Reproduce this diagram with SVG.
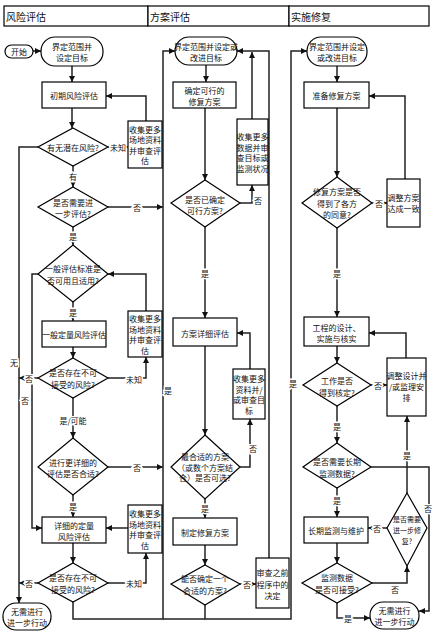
<svg xmlns="http://www.w3.org/2000/svg" width="437" height="636" viewBox="0 0 437 636">
<style>
.b{fill:#fff;stroke:#000;stroke-width:1.2}
.t{font-family:"Noto Sans CJK SC",sans-serif;font-size:8px;text-anchor:middle;dominant-baseline:central;fill:#111}
.s{font-size:7px}
.h{font-family:"Noto Sans CJK SC",sans-serif;font-size:10px;dominant-baseline:central;fill:#111}
.l{font-family:"Noto Sans CJK SC",sans-serif;font-size:8px;text-anchor:middle;dominant-baseline:central;fill:#111;paint-order:stroke;stroke:#fff;stroke-width:3px}
.c{fill:none;stroke:#222;stroke-width:1.5;marker-end:url(#a)}
.n{fill:none;stroke:#222;stroke-width:1.5}
</style>
<defs>
<marker id="a" markerUnits="userSpaceOnUse" markerWidth="7" markerHeight="6" refX="6" refY="3" orient="auto"><path d="M0,0L6,3L0,6z" fill="#111"/></marker>
</defs>
<rect width="437" height="636" fill="#fff"/>
<g id="header">
<rect class="b" x="4" y="6" width="144" height="20"/><text class="h" x="6" y="16">风险评估</text>
<rect class="b" x="148" y="6" width="141" height="20"/><text class="h" x="150" y="16">方案评估</text>
<rect class="b" x="289" y="6" width="140" height="20"/><text class="h" x="291" y="16">实施修复</text>
</g>
<g id="connectors">
<path class="c" d="M33,51H41"/>
<path class="c" d="M72,66V82"/>
<path class="c" d="M72,108V128"/>
<path class="c" d="M38,147H19V603"/>
<path class="c" d="M108,147H128"/>
<path class="c" d="M146,121V96H106"/>
<path class="c" d="M73,166V187"/>
<path class="c" d="M108,207H163"/>
<path class="c" d="M73,227V245"/>
<path class="c" d="M73,302V321"/>
<path class="c" d="M38,274H32V528H42"/>
<path class="c" d="M146,311V274H108"/>
<path class="c" d="M73,347V358"/>
<path class="c" d="M38,378H19"/>
<path class="c" d="M108,378H146V357"/>
<path class="c" d="M73,398V438"/>
<path class="c" d="M108,467H163"/>
<path class="c" d="M73,495V517"/>
<path class="c" d="M73,543V563"/>
<path class="c" d="M128,528H106"/>
<path class="c" d="M38,583H19"/>
<path class="c" d="M108,583H146V553"/>
<path class="c" d="M73,602V619H163V51H175"/>
<path class="n" d="M163,619H205"/>
<path class="c" d="M206,65V82"/>
<path class="c" d="M205,108V180"/>
<path class="c" d="M240,203H252V185"/>
<path class="c" d="M252,119V52"/>
<path class="c" d="M205,227V318"/>
<path class="c" d="M205,346V435"/>
<path class="c" d="M240,467H250V419"/>
<path class="c" d="M250,369V333H237"/>
<path class="c" d="M205,499V518"/>
<path class="c" d="M205,545V565"/>
<path class="c" d="M240,584H256"/>
<path class="c" d="M269,558V51H237"/>
<path class="c" d="M205,605V619H291V51H307"/>
<path class="c" d="M337,66V82"/>
<path class="c" d="M337,108V177"/>
<path class="c" d="M372,203H387"/>
<path class="c" d="M405,179V96H369"/>
<path class="c" d="M337,228V317"/>
<path class="c" d="M337,346V363"/>
<path class="c" d="M371,385H387"/>
<path class="c" d="M406,358V333H369"/>
<path class="c" d="M337,406V443"/>
<path class="c" d="M371,467H429V611H419"/>
<path class="c" d="M337,488V517"/>
<path class="c" d="M337,543V563"/>
<path class="c" d="M407,493V416"/>
<path class="c" d="M387,528H368"/>
<path class="c" d="M372,583H407V566"/>
<path class="c" d="M337,603V618H370"/>
<text class="l" x="14" y="362">无</text>
<text class="l" x="118" y="147">未知</text>
<text class="l" x="73" y="176">有</text>
<text class="l" x="137" y="207">否</text>
<text class="l" x="73" y="236">是</text>
<text class="l" x="73" y="312">是</text>
<text class="l" x="25" y="400">否</text>
<text class="l" x="29" y="378">否</text>
<text class="l" x="134" y="379">未知</text>
<text class="l" x="73" y="420">是/可能</text>
<text class="l" x="137" y="467">否</text>
<text class="l" x="73" y="506">是</text>
<text class="l" x="29" y="583">否</text>
<text class="l" x="134" y="583">未知</text>
<text class="l" x="168" y="390">是</text>
<text class="l" x="258" y="200">否</text>
<text class="l" x="205" y="273">是</text>
<text class="l" x="253" y="448">否</text>
<text class="l" x="205" y="508">是</text>
<text class="l" x="247" y="584">否</text>
<text class="l" x="293" y="383">是</text>
<text class="l" x="379" y="203">否</text>
<text class="l" x="337" y="273">是</text>
<text class="l" x="378" y="385">否</text>
<text class="l" x="337" y="426">是</text>
<text class="l" x="428" y="508">否</text>
<text class="l" x="337" y="500">是</text>
<text class="l" x="407" y="455">是</text>
<text class="l" x="377" y="528">否</text>
<text class="l" x="395" y="589">否</text>
<text class="l" x="348" y="618">是</text>
</g>
<g id="start"><rect class="b" x="5" y="45" width="28" height="13" rx="6.5"/><text class="t" x="19" y="51.5">开始</text></g>
<g id="scope1"><rect class="b" x="41" y="37" width="62" height="29" rx="14"/><text class="t" x="72"><tspan x="72" y="46">界定范围并</tspan><tspan x="72" y="57">设定目标</tspan></text></g>
<g id="initial"><rect class="b" x="42" y="82" width="64" height="26"/><text class="t" x="74" y="95">初期风险评估</text></g>
<g id="d-potential"><polygon class="b" points="73,128 108,147 73,166 38,147"/><text class="t" x="73" y="147">有无潜在风险?</text></g>
<g id="collect1"><rect class="b" x="128" y="121" width="34" height="47"/><text class="t"><tspan x="145" y="128.8">收集更多</tspan><tspan x="145" y="139.3">场地资料</tspan><tspan x="145" y="149.8">并审查评</tspan><tspan x="145" y="160.3">估</tspan></text></g>
<g id="d-further"><polygon class="b" points="73,187 108,207 73,227 38,207"/><text class="t"><tspan x="73" y="201.5">是否需要进</tspan><tspan x="73" y="212.5">一步评估?</tspan></text></g>
<g id="d-generic"><polygon class="b" points="73,245 108,274 73,302 38,274"/><text class="t"><tspan x="73" y="268">一般评估标准是</tspan><tspan x="73" y="279.5">否可用且适用?</tspan></text></g>
<g id="collect2"><rect class="b" x="128" y="311" width="34" height="46"/><text class="t"><tspan x="145" y="318.3">收集更多</tspan><tspan x="145" y="328.8">场地资料</tspan><tspan x="145" y="339.3">并审查评</tspan><tspan x="145" y="349.8">估</tspan></text></g>
<g id="generic-qra"><rect class="b" x="42" y="321" width="64" height="26"/><text class="t" x="74" y="334">一般定量风险评估</text></g>
<g id="d-unacc1"><polygon class="b" points="73,358 108,378 73,398 38,378"/><text class="t"><tspan x="73" y="372">是否存在不可</tspan><tspan x="73" y="383.5">接受的风险?</tspan></text></g>
<g id="d-detailed"><polygon class="b" points="73,438 108,467 73,495 38,467"/><text class="t"><tspan x="73" y="461.5">进行更详细的</tspan><tspan x="73" y="473">评估是否合适?</tspan></text></g>
<g id="detailed-qra"><rect class="b" x="42" y="517" width="64" height="26"/><text class="t"><tspan x="74" y="524.5">详细的定量</tspan><tspan x="74" y="535.5">风险评估</tspan></text></g>
<g id="collect3"><rect class="b" x="128" y="505" width="34" height="48"/><text class="t"><tspan x="145" y="513.3">收集更多</tspan><tspan x="145" y="523.8">场地资料</tspan><tspan x="145" y="534.3">并审查评</tspan><tspan x="145" y="544.8">估</tspan></text></g>
<g id="d-unacc2"><polygon class="b" points="73,563 108,583 73,602 38,583"/><text class="t"><tspan x="73" y="577">是否存在不可</tspan><tspan x="73" y="588.5">接受的风险?</tspan></text></g>
<g id="end1"><rect class="b" x="3" y="603" width="48" height="27" rx="13"/><text class="t"><tspan x="27" y="611">无需进行</tspan><tspan x="27" y="622">进一步行动</tspan></text></g>
<g id="scope2"><rect class="b" x="175" y="37" width="62" height="28" rx="14"/><text class="t"><tspan x="206" y="46">界定范围并设定或</tspan><tspan x="206" y="57">改进目标</tspan></text></g>
<g id="feasible"><rect class="b" x="173" y="82" width="63" height="26"/><text class="t"><tspan x="204.5" y="90">确定可行的</tspan><tspan x="204.5" y="101">修复方案</tspan></text></g>
<g id="d-feasible"><polygon class="b" points="205,180 240,203 205,227 171,203"/><text class="t"><tspan x="205" y="198.5">是否已确定</tspan><tspan x="205" y="209.5">可行方案?</tspan></text></g>
<g id="collect4"><rect class="b" x="237" y="119" width="31" height="66"/><text class="t"><tspan x="252.5" y="136.3">收集更多</tspan><tspan x="252.5" y="146.8">数据并审</tspan><tspan x="252.5" y="157.3">查目标或</tspan><tspan x="252.5" y="167.8">监测状况</tspan></text></g>
<g id="options"><rect class="b" x="173" y="318" width="64" height="28"/><text class="t" x="205" y="333">方案详细评估</text></g>
<g id="collect5"><rect class="b" x="233" y="369" width="32" height="50"/><text class="t"><tspan x="249" y="378.3">收集更多</tspan><tspan x="249" y="388.8">资料并/</tspan><tspan x="249" y="399.3">或审查目</tspan><tspan x="249" y="409.8">标</tspan></text></g>
<g id="d-best"><polygon class="b" points="205,435 240,467 205,499 171,467"/><text class="t"><tspan x="205" y="456">最合适的方案</tspan><tspan x="205" y="466.5">（或数个方案结</tspan><tspan x="205" y="477">合）是否可选?</tspan></text></g>
<g id="plan"><rect class="b" x="173" y="518" width="64" height="27"/><text class="t" x="205" y="532">制定修复方案</text></g>
<g id="d-suitable"><polygon class="b" points="205,565 240,584 205,605 171,584"/><text class="t"><tspan x="205" y="578">能否确定一个</tspan><tspan x="205" y="590">合适的方案?</tspan></text></g>
<g id="review"><rect class="b" x="256" y="558" width="33" height="50"/><text class="t"><tspan x="272.5" y="572">审查之前</tspan><tspan x="272.5" y="583.5">程序中的</tspan><tspan x="272.5" y="595">决定</tspan></text></g>
<g id="scope3"><rect class="b" x="307" y="37" width="60" height="29" rx="14"/><text class="t"><tspan x="337" y="46">界定范围并设定</tspan><tspan x="337" y="57">或改进目标</tspan></text></g>
<g id="prepare"><rect class="b" x="304" y="82" width="65" height="26"/><text class="t" x="336.5" y="95">准备修复方案</text></g>
<g id="d-agree"><polygon class="b" points="337,177 372,203 337,228 302,203"/><text class="t"><tspan x="337" y="191">修复方案是否</tspan><tspan x="337" y="202.5">得到了各方</tspan><tspan x="337" y="214">的同意?</tspan></text></g>
<g id="adjust-plan"><rect class="b" x="387" y="179" width="33" height="48"/><text class="t"><tspan x="403.5" y="197">调整方案</tspan><tspan x="403.5" y="208">达成一致</tspan></text></g>
<g id="design"><rect class="b" x="304" y="317" width="65" height="29"/><text class="t"><tspan x="336.5" y="327">工程的设计、</tspan><tspan x="336.5" y="338">实施与核实</tspan></text></g>
<g id="adjust-design"><rect class="b" x="387" y="358" width="39" height="58"/><text class="t"><tspan x="406.5" y="375">调整设计并</tspan><tspan x="406.5" y="386">/或监理安</tspan><tspan x="406.5" y="397">排</tspan></text></g>
<g id="d-verified"><polygon class="b" points="337,363 371,385 337,406 303,385"/><text class="t"><tspan x="337" y="380">工作是否</tspan><tspan x="337" y="391.5">得到核定?</tspan></text></g>
<g id="d-longterm"><polygon class="b" points="337,443 371,467 337,488 303,467"/><text class="t"><tspan x="337" y="461">是否需要长期</tspan><tspan x="337" y="473">监测数据?</tspan></text></g>
<g id="monitor"><rect class="b" x="304" y="517" width="64" height="26"/><text class="t" x="336" y="530">长期监测与维护</text></g>
<g id="d-more"><polygon class="b" points="407,493 427,528 407,566 387,528"/><text class="t s"><tspan x="407" y="519">是否需要</tspan><tspan x="407" y="530">进一步修</tspan><tspan x="407" y="541">复?</tspan></text></g>
<g id="d-data"><polygon class="b" points="337,563 372,583 337,603 302,583"/><text class="t"><tspan x="337" y="577">监测数据</tspan><tspan x="337" y="589">是否可接受?</tspan></text></g>
<g id="end3"><rect class="b" x="370" y="602" width="49" height="27" rx="13"/><text class="t"><tspan x="394.5" y="610">无需进行</tspan><tspan x="394.5" y="621">进一步行动</tspan></text></g>
</svg>
